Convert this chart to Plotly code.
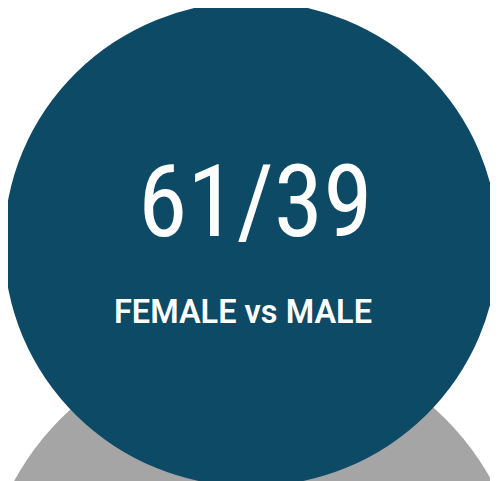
import plotly.graph_objects as go

# Data
female_share = 61
male_share = 39
label_text = "FEMALE vs MALE"

W, H = 498, 481
OFF = 8  # page body margin in the browser
BLUE = "#0d4a65"
GRAY = "#a5a5a5"

fig = go.Figure()
fig.add_trace(go.Scatter(x=[OFF, W], y=[OFF, H], mode="markers",
                         marker=dict(opacity=0), hoverinfo="skip", showlegend=False))

# background gray circle (partly hidden)
fig.add_shape(type="circle", xref="x", yref="y",
              x0=253 - 272, x1=253 + 272, y0=611 - 272, y1=611 + 272,
              fillcolor=GRAY, line=dict(width=0), layer="below")
# main blue circle
fig.add_shape(type="circle", xref="x", yref="y",
              x0=4, x1=498, y0=1.5, y1=486.5,
              fillcolor=BLUE, line=dict(width=0), layer="below")

fig.add_annotation(x=255, y=201, xref="x", yref="y",
                   text=f"{female_share}/{male_share}", showarrow=False,
                   xanchor="center", yanchor="middle",
                   font=dict(family="Roboto Condensed", size=100, color="white"))
fig.add_annotation(x=243, y=312, xref="x", yref="y",
                   text=label_text, showarrow=False,
                   xanchor="center", yanchor="middle",
                   font=dict(family="Roboto", size=32.5, color="white", weight=600))

fig.update_layout(width=W - OFF, height=H - OFF, margin=dict(l=0, r=0, t=0, b=0),
                  paper_bgcolor="white", plot_bgcolor="white",
                  xaxis=dict(range=[OFF, W], visible=False, fixedrange=True),
                  yaxis=dict(range=[H, OFF], visible=False, fixedrange=True),
                  showlegend=False)

fig.write_html("out.html")
